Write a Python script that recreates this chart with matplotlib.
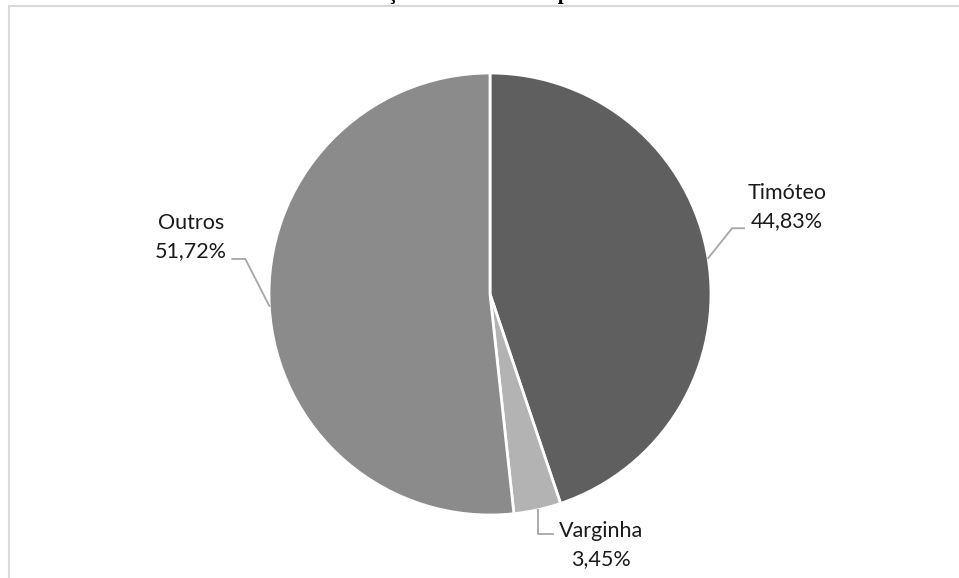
import numpy as np
import matplotlib
matplotlib.use("Agg")
import matplotlib.pyplot as plt
from matplotlib.patches import Rectangle

categories = ["Timóteo", "Varginha", "Outros"]
values = [13, 1, 15]
pct_labels = ["44,83%", "3,45%", "51,72%"]
colors = ["#5f5f5f", "#b3b3b3", "#8b8b8b"]
title = "Distribuição dos estudantes por cidade"

W, H = 959, 578
fig = plt.figure(figsize=(W / 100, H / 100), dpi=100)
ax = fig.add_axes([0, 0, 1, 1])
ax.set_xlim(0, W)
ax.set_ylim(0, H)
ax.set_aspect("equal")
ax.axis("off")

# chart frame (partially cropped)
ax.add_patch(Rectangle((9, -20), W + 20, H - 6 + 20, fill=False,
                       edgecolor="#d9d9d9", linewidth=1.5))

cx, cy, r = 490, H - 294, 221
wedges, _ = ax.pie(values, colors=colors, startangle=90, counterclock=False,
                   center=(cx, cy), radius=r, frame=True,
                   wedgeprops=dict(edgecolor="white", linewidth=2))
ax.set_xlim(0, W)
ax.set_ylim(0, H)
ax.axis("off")

# title clipped at top
fig.text(0.5, 1 + 1.5 / H, title, ha="center", va="baseline",
         fontsize=15, fontweight="bold", family="Liberation Serif")

font = dict(family="Lato", fontsize=15.5, color="#1a1a1a")
lc = "#a6a6a6"
cfg = {
    0: dict(elbow=(24, 30), hlen=12, text=(787, H - 207)),
    1: dict(elbow=(0, -24), hlen=15, text=(601, H - 545)),
    2: dict(elbow=(-24, 47), hlen=-13, text=(191, H - 237)),
}
for i, w in enumerate(wedges):
    ang = np.deg2rad((w.theta1 + w.theta2) / 2)
    x0, y0 = cx + r * np.cos(ang), cy + r * np.sin(ang)
    c = cfg[i]
    x1, y1 = x0 + c["elbow"][0], y0 + c["elbow"][1]
    x2 = x1 + c["hlen"]
    ax.plot([x0, x1, x2], [y0, y1, y1], color=lc, linewidth=1.3,
            solid_joinstyle="miter")
    tx, ty = c["text"]
    ax.text(tx, ty, f"{categories[i]}\n{pct_labels[i]}", ha="center",
            va="center", linespacing=1.5, **font)

fig.savefig("out.png", dpi=100)
